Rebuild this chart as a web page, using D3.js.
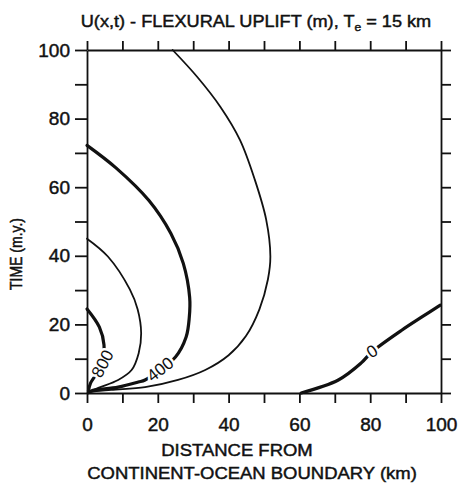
<!DOCTYPE html>
<meta charset="utf-8">
<script src="https://d3js.org/d3.v7.min.js"></script>
<style>
  body { margin: 0; background: #fff; }
  svg text { font-family: "Liberation Sans", Arial, sans-serif; fill: #111; stroke: #111; stroke-width: 0.45; }
  .axis path, .axis line { stroke: #111; stroke-width: 1.8; }
  .axis text { font-size: 19px; }
</style>
<div id="chart"></div>
<script>
// contour lines of flexural uplift (m), x = distance (km), t = time (m.y.)
var c0   = [[60.5,0],[71,3.8],[77.4,8.7],[80.4,11.9],[88.9,18.3],[94.5,22.1],[99.8,25.6]];
var c200 = [[24.2,100],[31.1,92.2],[37.7,83.4],[43.2,73.8],[47.4,62.2],[50.6,50.6],[51.8,39.8],[51.1,33.1],
            [48.7,24.4],[44.9,16.6],[40,11],[33.4,6.7],[25.7,3.8],[16.4,1.7],[6.8,0.9],[1.2,0.3],[0.4,0]];
var c400 = [[0,72.2],[8.1,65.7],[17.5,56.1],[23.7,46.5],[27.2,37.8],[29,27.9],[28.9,22.1],[28,16.3],
            [25,10.5],[16.4,3.8],[14.5,3.2],[8.8,1.7],[1.2,0.6],[0.4,0.1]];
var c600 = [[0,45],[5.9,39.8],[12.1,30.2],[14.3,24.4],[15.3,17.4],[14.6,11.6],[12.6,6.7],[8.8,3.8],[3.2,1.5],[0.4,0.2]];
var c800 = [[0,24.5],[3.5,19.2],[4.8,14],[4.2,8.1],[1,2.9],[0.4,0.6]];

var contours = [
  { pts: c0,   thick: true },
  { pts: c200, thick: false },
  { pts: c400, thick: true },
  { pts: c600, thick: false },
  { pts: c800, thick: true }
];
// contour labels: text, position (x,t), rotation
var labels = [
  { text: "0",   x: 80.5, t: 12.2, rot: -33 },
  { text: "400", x: 20.6, t: 7.0,  rot: -38 },
  { text: "800", x: 4.3,  t: 8.6,  rot: -62 }
];
var xTicks = d3.range(0, 101, 10);
var yTicks = d3.range(0, 101, 10);

var W = 462, H = 484;
var svg = d3.select("#chart").append("svg").attr("width", W).attr("height", H);

var x = d3.scaleLinear().domain([0, 100]).range([87, 441]);
var y = d3.scaleLinear().domain([0, 100]).range([393, 50]);

var lab = function(d) { return d % 20 === 0 ? d : ""; };

svg.append("g").attr("class", "axis")
  .attr("transform", "translate(0," + y(0) + ")")
  .call(d3.axisBottom(x).tickValues(xTicks).tickFormat(lab).tickSize(10).tickSizeOuter(0).tickPadding(15));
svg.append("g").attr("class", "axis")
  .attr("transform", "translate(0," + y(100) + ")")
  .call(d3.axisTop(x).tickValues(xTicks).tickFormat("").tickSize(9).tickSizeOuter(0));
svg.append("g").attr("class", "axis")
  .attr("transform", "translate(" + x(0) + ",0)")
  .call(d3.axisLeft(y).tickValues(yTicks).tickFormat(lab).tickSize(12).tickSizeOuter(0).tickPadding(5));
svg.append("g").attr("class", "axis")
  .attr("transform", "translate(" + x(100) + ",0)")
  .call(d3.axisRight(y).tickValues(yTicks).tickFormat("").tickSize(10).tickSizeOuter(0));

svg.selectAll(".axis .domain").attr("stroke-width", 2);

var line = d3.line()
  .x(function(d) { return x(d[0]); })
  .y(function(d) { return y(d[1]); })
  .curve(d3.curveCatmullRom);

svg.append("g").selectAll("path")
  .data(contours)
  .enter().append("path")
  .attr("d", function(d) { return line(d.pts); })
  .attr("fill", "none")
  .attr("stroke", "#111")
  .attr("stroke-width", function(d) { return d.thick ? 3.2 : 1.8; })
  .attr("stroke-linecap", "round");

svg.append("g").selectAll("text")
  .data(labels)
  .enter().append("text")
  .attr("transform", function(d) { return "translate(" + x(d.x) + "," + y(d.t) + ") rotate(" + d.rot + ")"; })
  .attr("text-anchor", "middle")
  .attr("dy", "0.36em")
  .style("font-size", "17px")
  .style("stroke", "#fff")
  .style("stroke-width", 5)
  .style("paint-order", "stroke")
  .text(function(d) { return d.text; });

// title (scan is slightly wider than tall, so text is stretched a bit)
var title = svg.append("text")
  .attr("transform", "translate(256,27) scale(1.1,1)")
  .attr("text-anchor", "middle")
  .style("font-size", "16.5px");
title.append("tspan").text("U(x,t) - FLEXURAL UPLIFT (m), T");
title.append("tspan").attr("dy", 4).style("font-size", "11px").text("e");
title.append("tspan").attr("dy", -4).text(" = 15 km");

// axis titles
svg.append("text")
  .attr("transform", "translate(237,456) scale(1.1,1)")
  .attr("text-anchor", "middle")
  .style("font-size", "16.8px")
  .text("DISTANCE FROM");
svg.append("text")
  .attr("transform", "translate(252,479) scale(1.1,1)")
  .attr("text-anchor", "middle")
  .style("font-size", "16.8px")
  .text("CONTINENT-OCEAN BOUNDARY (km)");
svg.append("text")
  .attr("transform", "translate(22,254) rotate(-90) scale(1,1.12)")
  .attr("text-anchor", "middle")
  .style("font-size", "14px")
  .text("TIME (m.y.)");
</script>
